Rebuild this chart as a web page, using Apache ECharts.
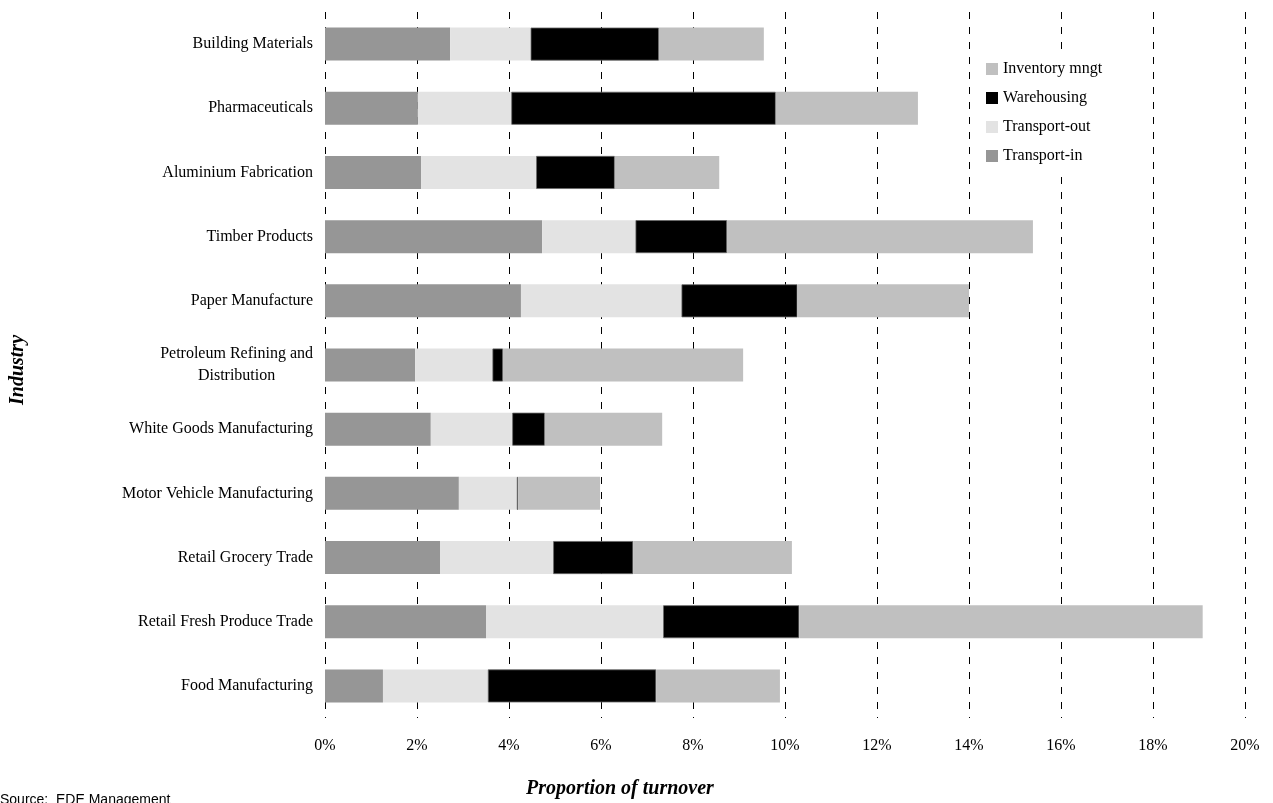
<!DOCTYPE html>
<html>
<head>
<meta charset="utf-8">
<script src="https://cdn.jsdelivr.net/npm/echarts@6/dist/echarts.min.js"></script>
<style>
html,body{margin:0;padding:0;background:#fff;}
#chart{width:1273px;height:803px;}
</style>
</head>
<body>
<div id="chart"></div>
<script>
const industries = [
  "Building Materials",
  "Pharmaceuticals",
  "Aluminium Fabrication",
  "Timber Products",
  "Paper Manufacture",
  "Petroleum Refining and\nDistribution",
  "White Goods Manufacturing",
  "Motor Vehicle Manufacturing",
  "Retail Grocery Trade",
  "Retail Fresh Produce Trade",
  "Food Manufacturing"
];
const transportIn  = [2.72, 2.02, 2.09, 4.72, 4.26, 1.96, 2.30, 2.91, 2.50, 3.50, 1.26];
const transportOut = [1.75, 2.03, 2.50, 2.03, 3.49, 1.68, 1.77, 1.26, 2.46, 3.85, 2.28];
const warehousing  = [2.79, 5.75, 1.71, 1.99, 2.52, 0.23, 0.71, 0.03, 1.74, 2.96, 3.66];
const inventory    = [2.28, 3.09, 2.27, 6.65, 3.73, 5.22, 2.55, 1.78, 3.45, 8.77, 2.69];
const xTicks = [0, 2, 4, 6, 8, 10, 12, 14, 16, 18, 20];

const serif = "'Liberation Serif', 'DejaVu Serif', serif";
const chart = echarts.init(document.getElementById('chart'));

function mkSeries(name, data, color, extra) {
  return Object.assign({
    name: name,
    type: 'bar',
    stack: 'total',
    data: data,
    barWidth: 33,
    itemStyle: { color: color },
    emphasis: { disabled: true }
  }, extra || {});
}

chart.setOption({
  animation: false,
  backgroundColor: '#ffffff',
  grid: { left: 325, right: 28, top: 12, bottom: 85, containLabel: false },
  xAxis: {
    type: 'value',
    min: xTicks[0],
    max: xTicks[xTicks.length - 1],
    interval: 2,
    axisLine: { show: false },
    axisTick: { show: false },
    splitLine: { show: true, lineStyle: { color: '#000', width: 1, type: [7, 8] } },
    axisLabel: {
      margin: 20,
      fontFamily: serif,
      fontSize: 16,
      color: '#000',
      formatter: function (v) { return v + '%'; }
    }
  },
  yAxis: {
    type: 'category',
    data: industries,
    inverse: true,
    axisLine: { show: false },
    axisTick: { show: false },
    splitLine: { show: false },
    axisLabel: {
      margin: 12,
      fontFamily: serif,
      fontSize: 16,
      color: '#000',
      lineHeight: 22,
      formatter: function (v) {
        if (v.indexOf('\n') >= 0) {
          return v.split('\n').map(function (s) { return '{c|' + s + '}'; }).join('\n');
        }
        return v;
      },
      rich: {
        c: { align: 'center', fontFamily: serif, fontSize: 16, color: '#000', lineHeight: 22 }
      }
    }
  },
  legend: {
    orient: 'vertical',
    left: 976,
    top: 52,
    padding: [8, 10, 8, 10],
    backgroundColor: '#ffffff',
    itemWidth: 12,
    itemHeight: 12,
    itemGap: 11,
    icon: 'rect',
    itemStyle: { borderWidth: 0 },
    data: ['Inventory mngt', 'Warehousing', 'Transport-out', 'Transport-in'],
    textStyle: { fontFamily: serif, fontSize: 16, color: '#000', lineHeight: 18 },
    selectedMode: false
  },
  graphic: [
    {
      type: 'text',
      x: 620,
      y: 789,
      style: {
        text: 'Proportion of turnover',
        font: "italic bold 20px 'Liberation Serif', serif",
        fill: '#000',
        align: 'center',
        verticalAlign: 'middle'
      }
    },
    {
      type: 'text',
      x: 18,
      y: 370,
      rotation: Math.PI / 2,
      style: {
        text: 'Industry',
        font: "italic bold 20px 'Liberation Serif', serif",
        fill: '#000',
        align: 'center',
        verticalAlign: 'middle'
      }
    },
    {
      type: 'text',
      left: 0,
      top: 793,
      style: {
        text: 'Source:  EDE Management',
        font: "14px 'Liberation Sans', Arial, sans-serif",
        fill: '#000'
      }
    }
  ],
  series: [
    mkSeries('Transport-in', transportIn, '#969696'),
    mkSeries('Transport-out', transportOut, '#e3e3e3'),
    mkSeries('Warehousing', warehousing, '#000000', { itemStyle: { color: '#000000', borderColor: '#666666', borderWidth: 0.8 } }),
    mkSeries('Inventory mngt', inventory, '#c0c0c0')
  ]
});
</script>
</body>
</html>
